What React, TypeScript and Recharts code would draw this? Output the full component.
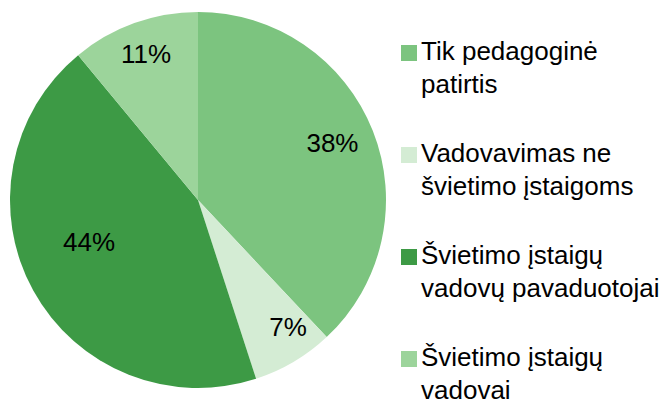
import { Pie, PieChart, Cell } from "recharts";

const categories = [
  "Tik pedagoginė\npatirtis",
  "Vadovavimas ne\nšvietimo įstaigoms",
  "Švietimo įstaigų\nvadovų pavaduotojai",
  "Švietimo įstaigų\nvadovai",
];
const shares = [38, 7, 44, 11];
const colors = ["#7cc47f", "#d4ecd4", "#3d9a45", "#9cd49b"];
// excel "best fit" puts labels at different depths / slightly off the mid angle
const labelDepth = [0.777, 0.83, 0.622, 0.824];
const labelTurn = [1.4, 4.7, -7.5, -0.2];

const data = categories.map((name, i) => ({ name, value: shares[i] }));

const RADIAN = Math.PI / 180;
const FONT = "Liberation Sans, Arial, sans-serif";

function renderLabel(props: any) {
  const { cx, cy, midAngle, outerRadius, index, value } = props;
  const r = outerRadius * labelDepth[index];
  const a = (midAngle + labelTurn[index]) * RADIAN;
  const x = cx + r * Math.cos(-a);
  const y = cy + r * Math.sin(-a);
  return (
    <text
      x={x}
      y={y}
      fill="#000"
      fontSize={26}
      fontFamily={FONT}
      textAnchor="middle"
      dominantBaseline="central"
    >
      {value}%
    </text>
  );
}

function ChartLegend() {
  return (
    <div
      style={{
        position: "absolute",
        left: 401,
        top: 35,
        width: 271,
        fontFamily: FONT,
      }}
    >
      {data.map((d, i) => (
        <div
          key={i}
          style={{
            position: "relative",
            height: 66,
            marginBottom: 36,
            paddingLeft: 20,
          }}
        >
          <span
            style={{
              position: "absolute",
              left: 0,
              top: 10,
              width: 16,
              height: 16,
              background: colors[i],
            }}
          />
          <div
            style={{
              fontSize: 26,
              lineHeight: "33px",
              whiteSpace: "pre-line",
              color: "#000",
            }}
          >
            {d.name}
          </div>
        </div>
      ))}
    </div>
  );
}

export default function App() {
  return (
    <div
      style={{
        position: "absolute",
        left: 0,
        top: 0,
        width: 672,
        height: 401,
        background: "#fff",
        overflow: "hidden",
      }}
    >
      <PieChart width={672} height={401} margin={{ top: 0, right: 0, bottom: 0, left: 0 }}>
        <Pie
          data={data}
          dataKey="value"
          nameKey="name"
          cx={198}
          cy={200}
          outerRadius={188}
          startAngle={90}
          endAngle={-270}
          stroke="none"
          labelLine={false}
          label={renderLabel}
          isAnimationActive={false}
        >
          {data.map((_, i) => (
            <Cell key={i} fill={colors[i]} />
          ))}
        </Pie>
      </PieChart>
      <ChartLegend />
    </div>
  );
}
